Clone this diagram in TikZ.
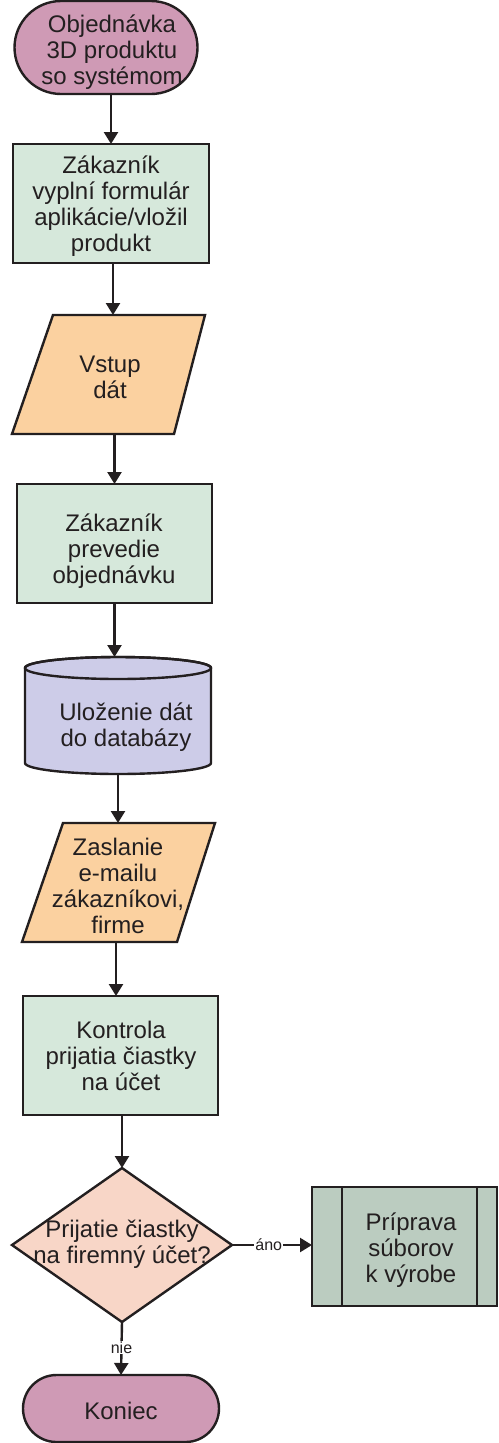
\documentclass[tikz,border=0pt]{standalone}
\usepackage{fontspec}
\setmainfont{Liberation Sans}
\usetikzlibrary{shapes.misc,shapes.geometric,arrows.meta}
\definecolor{inkc}{HTML}{231F20}
\definecolor{termfill}{HTML}{CF9AB5}
\definecolor{procfill}{HTML}{D6E8DB}
\definecolor{iofill}{HTML}{FBD1A0}
\definecolor{dbfill}{HTML}{CDCCE8}
\definecolor{decfill}{HTML}{F8D6C7}
\definecolor{subfill}{HTML}{BBCCC0}
\begin{document}
\begin{tikzpicture}[x=1pt,y=-1pt,
  shapebox/.style={draw=inkc, line width=2.4pt, inner sep=0pt, outer sep=0pt},
  terminal/.style={shapebox, rounded rectangle, fill=termfill},
  process/.style={shapebox, rectangle, fill=procfill},
  decision/.style={shapebox, diamond, fill=decfill},
  subproc/.style={shapebox, rectangle, fill=subfill},
  frame/.style={rectangle, inner sep=0pt, outer sep=0pt},
  outline/.style={draw=inkc, line width=2.4pt, line join=miter},
  txt/.style={text=inkc, align=center, font=\fontsize{24}{26}\selectfont, inner sep=0pt},
  flow/.style={draw=inkc, line width=2.4pt, -{Triangle[length=12pt,width=14pt]}},
  tag/.style={fill=white, text=inkc, font=\fontsize{16}{17}\selectfont, inner sep=1pt}
]
\useasboundingbox (0,0) rectangle (498,1443);

% start terminal
\node[terminal, minimum width=183pt, minimum height=93pt] (start) at (106,47.5) {};
\node[txt] (start-t) at (112,52) {Objednávka\\3D produktu\\so systémom};

% process: form filled in
\node[process, minimum width=196pt, minimum height=119pt] (box1) at (111,203.5) {};
\node[txt] (box1-t) at (111,206) {Zákazník\\vyplní formulár\\aplikácie/vložil\\produkt};

% input: data entry (parallelogram)
\node[frame, minimum width=150pt, minimum height=119pt] (par1) at (113,374.5) {};
\filldraw[outline, fill=iofill] (53,315) -- (205,315) -- (174,434) -- (12,434) -- cycle;
\node[txt] (par1-t) at (110,377) {Vstup\\dát};

% process: order placed
\node[process, minimum width=195pt, minimum height=119pt] (box2) at (114.5,543.5) {};
\node[txt] (box2-t) at (114,551) {Zákazník\\prevedie\\objednávku};

% database (cylinder)
\node[frame, minimum width=186pt, minimum height=117pt] (cyl) at (118,715.5) {};
\filldraw[outline, fill=dbfill] (25,668) -- (25,763)
  arc[start angle=180, end angle=360, x radius=93pt, y radius=11pt]
  -- (211,668)
  arc[start angle=0, end angle=180, x radius=93pt, y radius=11pt] -- cycle;
\draw[outline] (118,668) ellipse[x radius=93pt, y radius=11pt];
\node[txt] (cyl-t) at (126,727) {Uloženie dát\\do databázy};

% output: e-mail (parallelogram)
\node[frame, minimum width=150pt, minimum height=119pt] (par2) at (116,882.5) {};
\filldraw[outline, fill=iofill] (63,823) -- (215,823) -- (177,942) -- (22,942) -- cycle;
\node[txt] (par2-t) at (118,886) {Zaslanie\\e-mailu\\zákazníkovi,\\firme};

% process: payment check
\node[process, minimum width=195pt, minimum height=119pt] (box3) at (120.5,1055.5) {};
\node[txt] (box3-t) at (121,1056) {Kontrola\\prijatia čiastky\\na účet};

% decision
\node[decision, minimum width=220pt, minimum height=154pt] (dec) at (122,1245) {};
\node[txt] (dec-t) at (122,1244) {Prijatie čiastky\\na firemný účet?};

% predefined process
\node[subproc, minimum width=185pt, minimum height=119pt] (sub) at (404.5,1246.5) {};
\draw[outline] ([xshift=30pt]sub.north west) -- ([xshift=30pt]sub.south west);
\draw[outline] ([xshift=-20pt]sub.north east) -- ([xshift=-20pt]sub.south east);
\node[txt] (sub-t) at (411,1250) {Príprava\\súborov\\k výrobe};

% end terminal
\node[terminal, minimum width=196pt, minimum height=67pt] (stop) at (121,1408.5) {};
\node[txt] (stop-t) at (121,1411) {Koniec};

% connectors
\draw[flow] (start.south -| box1.north) -- (box1.north);
\draw[flow] (box1.south -| par1.north) -- (par1.north);
\draw[flow] (par1.south -| box2.north) -- (box2.north);
\draw[flow] (box2.south) -- (box2.south |- cyl.north);
\draw[flow] (cyl.south) -- (cyl.south |- par2.north);
\draw[flow] (par2.south) -- (par2.south |- box3.north);
\draw[flow] (box3.south -| dec.north) -- (dec.north);
\draw[flow] (dec.east) -- node[tag, pos=0.46] (yes) {áno} (dec.east -| sub.west);
\draw[flow] (dec.south) -- node[tag, pos=0.48] (no) {nie} (stop.north);
\end{tikzpicture}
\end{document}
